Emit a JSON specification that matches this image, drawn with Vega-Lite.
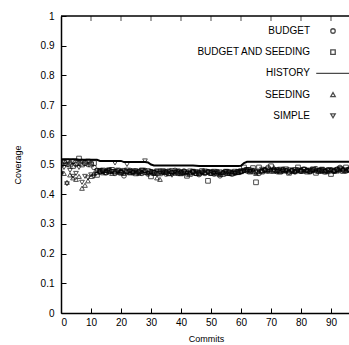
{
  "$schema": "https://vega.github.io/schema/vega-lite/v6.json",
  "autosize": {"type": "none"},
  "width": 290,
  "height": 297,
  "padding": {"left": 61, "top": 16, "right": 0, "bottom": 32},
  "background": "white",
  "config": {
    "view": {"stroke": null},
    "font": "Liberation Sans",
    "axis": {"grid": false, "domainColor": "black", "domainWidth": 1.5, "tickColor": "black", "tickWidth": 1, "labelColor": "black", "titleColor": "black", "labelFont": "Liberation Sans", "titleFont": "Liberation Sans", "labelFontSize": 10, "titleFontSize": 9, "titleFontWeight": "normal", "labelOverlap": false},
    "legend": {"labelFont": "Liberation Sans", "labelFontSize": 10, "labelColor": "black"}
  },
  "data": {"values": [
    {"c":0,"BUDGET":0.505,"BUDGET AND SEEDING":0.50,"SEEDING":0.475,"SIMPLE":0.47,"HISTORY":0.518},
    {"c":1,"BUDGET":0.51,"BUDGET AND SEEDING":0.505,"SEEDING":0.47,"SIMPLE":0.49,"HISTORY":0.518},
    {"c":2,"BUDGET":0.50,"BUDGET AND SEEDING":0.51,"SEEDING":0.44,"SIMPLE":0.435,"HISTORY":0.518},
    {"c":3,"BUDGET":0.505,"BUDGET AND SEEDING":0.50,"SEEDING":0.465,"SIMPLE":0.48,"HISTORY":0.518},
    {"c":4,"BUDGET":0.51,"BUDGET AND SEEDING":0.495,"SEEDING":0.455,"SIMPLE":0.46,"HISTORY":0.518},
    {"c":5,"BUDGET":0.50,"BUDGET AND SEEDING":0.505,"SEEDING":0.45,"SIMPLE":0.47,"HISTORY":0.518},
    {"c":6,"BUDGET":0.505,"BUDGET AND SEEDING":0.52,"SEEDING":0.46,"SIMPLE":0.49,"HISTORY":0.516},
    {"c":7,"BUDGET":0.51,"BUDGET AND SEEDING":0.50,"SEEDING":0.42,"SIMPLE":0.44,"HISTORY":0.516},
    {"c":8,"BUDGET":0.505,"BUDGET AND SEEDING":0.505,"SEEDING":0.43,"SIMPLE":0.46,"HISTORY":0.516},
    {"c":9,"BUDGET":0.50,"BUDGET AND SEEDING":0.51,"SEEDING":0.445,"SIMPLE":0.455,"HISTORY":0.516},
    {"c":10,"BUDGET":0.505,"BUDGET AND SEEDING":0.50,"SEEDING":0.46,"SIMPLE":0.465,"HISTORY":0.516},
    {"c":11,"BUDGET":0.49,"BUDGET AND SEEDING":0.505,"SEEDING":0.47,"SIMPLE":0.46,"HISTORY":0.516},
    {"c":12,"BUDGET":0.48,"BUDGET AND SEEDING":0.465,"SEEDING":0.474,"SIMPLE":0.478,"HISTORY":0.516},
    {"c":13,"BUDGET":0.475,"BUDGET AND SEEDING":0.478,"SEEDING":0.478,"SIMPLE":0.48,"HISTORY":0.512},
    {"c":14,"BUDGET":0.478,"BUDGET AND SEEDING":0.48,"SEEDING":0.472,"SIMPLE":0.474,"HISTORY":0.512},
    {"c":15,"BUDGET":0.472,"BUDGET AND SEEDING":0.474,"SEEDING":0.48,"SIMPLE":0.478,"HISTORY":0.512},
    {"c":16,"BUDGET":0.48,"BUDGET AND SEEDING":0.478,"SEEDING":0.476,"SIMPLE":0.482,"HISTORY":0.512},
    {"c":17,"BUDGET":0.476,"BUDGET AND SEEDING":0.482,"SEEDING":0.47,"SIMPLE":0.476,"HISTORY":0.512},
    {"c":18,"BUDGET":0.47,"BUDGET AND SEEDING":0.476,"SEEDING":0.478,"SIMPLE":0.505,"HISTORY":0.512},
    {"c":19,"BUDGET":0.478,"BUDGET AND SEEDING":0.48,"SEEDING":0.474,"SIMPLE":0.478,"HISTORY":0.512},
    {"c":20,"BUDGET":0.474,"BUDGET AND SEEDING":0.472,"SEEDING":0.48,"SIMPLE":0.474,"HISTORY":0.512},
    {"c":21,"BUDGET":0.462,"BUDGET AND SEEDING":0.476,"SEEDING":0.47,"SIMPLE":0.48,"HISTORY":0.508},
    {"c":22,"BUDGET":0.476,"BUDGET AND SEEDING":0.48,"SEEDING":0.476,"SIMPLE":0.50,"HISTORY":0.508},
    {"c":23,"BUDGET":0.48,"BUDGET AND SEEDING":0.474,"SEEDING":0.472,"SIMPLE":0.476,"HISTORY":0.508},
    {"c":24,"BUDGET":0.472,"BUDGET AND SEEDING":0.478,"SEEDING":0.478,"SIMPLE":0.472,"HISTORY":0.508},
    {"c":25,"BUDGET":0.478,"BUDGET AND SEEDING":0.47,"SEEDING":0.474,"SIMPLE":0.478,"HISTORY":0.508},
    {"c":26,"BUDGET":0.474,"BUDGET AND SEEDING":0.476,"SEEDING":0.47,"SIMPLE":0.474,"HISTORY":0.508},
    {"c":27,"BUDGET":0.47,"BUDGET AND SEEDING":0.48,"SEEDING":0.476,"SIMPLE":0.48,"HISTORY":0.508},
    {"c":28,"BUDGET":0.48,"BUDGET AND SEEDING":0.474,"SEEDING":0.48,"SIMPLE":0.512,"HISTORY":0.508},
    {"c":29,"BUDGET":0.468,"BUDGET AND SEEDING":0.478,"SEEDING":0.472,"SIMPLE":0.47,"HISTORY":0.507},
    {"c":30,"BUDGET":0.476,"BUDGET AND SEEDING":0.46,"SEEDING":0.476,"SIMPLE":0.476,"HISTORY":0.50},
    {"c":31,"BUDGET":0.472,"BUDGET AND SEEDING":0.472,"SEEDING":0.47,"SIMPLE":0.472,"HISTORY":0.497},
    {"c":32,"BUDGET":0.47,"BUDGET AND SEEDING":0.476,"SEEDING":0.455,"SIMPLE":0.478,"HISTORY":0.497},
    {"c":33,"BUDGET":0.478,"BUDGET AND SEEDING":0.47,"SEEDING":0.45,"SIMPLE":0.47,"HISTORY":0.497},
    {"c":34,"BUDGET":0.474,"BUDGET AND SEEDING":0.478,"SEEDING":0.474,"SIMPLE":0.476,"HISTORY":0.497},
    {"c":35,"BUDGET":0.468,"BUDGET AND SEEDING":0.474,"SEEDING":0.478,"SIMPLE":0.472,"HISTORY":0.497},
    {"c":36,"BUDGET":0.476,"BUDGET AND SEEDING":0.47,"SEEDING":0.47,"SIMPLE":0.478,"HISTORY":0.497},
    {"c":37,"BUDGET":0.472,"BUDGET AND SEEDING":0.478,"SEEDING":0.476,"SIMPLE":0.464,"HISTORY":0.497},
    {"c":38,"BUDGET":0.48,"BUDGET AND SEEDING":0.472,"SEEDING":0.472,"SIMPLE":0.474,"HISTORY":0.497},
    {"c":39,"BUDGET":0.47,"BUDGET AND SEEDING":0.476,"SEEDING":0.478,"SIMPLE":0.478,"HISTORY":0.497},
    {"c":40,"BUDGET":0.474,"BUDGET AND SEEDING":0.47,"SEEDING":0.47,"SIMPLE":0.472,"HISTORY":0.497},
    {"c":41,"BUDGET":0.478,"BUDGET AND SEEDING":0.474,"SEEDING":0.474,"SIMPLE":0.476,"HISTORY":0.497},
    {"c":42,"BUDGET":0.468,"BUDGET AND SEEDING":0.462,"SEEDING":0.476,"SIMPLE":0.47,"HISTORY":0.497},
    {"c":43,"BUDGET":0.472,"BUDGET AND SEEDING":0.468,"SEEDING":0.472,"SIMPLE":0.478,"HISTORY":0.497},
    {"c":44,"BUDGET":0.476,"BUDGET AND SEEDING":0.476,"SEEDING":0.478,"SIMPLE":0.472,"HISTORY":0.497},
    {"c":45,"BUDGET":0.47,"BUDGET AND SEEDING":0.472,"SEEDING":0.47,"SIMPLE":0.476,"HISTORY":0.496},
    {"c":46,"BUDGET":0.466,"BUDGET AND SEEDING":0.47,"SEEDING":0.476,"SIMPLE":0.468,"HISTORY":0.495},
    {"c":47,"BUDGET":0.474,"BUDGET AND SEEDING":0.478,"SEEDING":0.472,"SIMPLE":0.474,"HISTORY":0.495},
    {"c":48,"BUDGET":0.47,"BUDGET AND SEEDING":0.474,"SEEDING":0.474,"SIMPLE":0.478,"HISTORY":0.495},
    {"c":49,"BUDGET":0.476,"BUDGET AND SEEDING":0.445,"SEEDING":0.478,"SIMPLE":0.472,"HISTORY":0.495},
    {"c":50,"BUDGET":0.472,"BUDGET AND SEEDING":0.472,"SEEDING":0.47,"SIMPLE":0.476,"HISTORY":0.495},
    {"c":51,"BUDGET":0.468,"BUDGET AND SEEDING":0.476,"SEEDING":0.476,"SIMPLE":0.47,"HISTORY":0.495},
    {"c":52,"BUDGET":0.476,"BUDGET AND SEEDING":0.47,"SEEDING":0.472,"SIMPLE":0.474,"HISTORY":0.495},
    {"c":53,"BUDGET":0.462,"BUDGET AND SEEDING":0.474,"SEEDING":0.466,"SIMPLE":0.466,"HISTORY":0.495},
    {"c":54,"BUDGET":0.472,"BUDGET AND SEEDING":0.468,"SEEDING":0.474,"SIMPLE":0.472,"HISTORY":0.495},
    {"c":55,"BUDGET":0.47,"BUDGET AND SEEDING":0.476,"SEEDING":0.478,"SIMPLE":0.476,"HISTORY":0.495},
    {"c":56,"BUDGET":0.476,"BUDGET AND SEEDING":0.472,"SEEDING":0.47,"SIMPLE":0.468,"HISTORY":0.495},
    {"c":57,"BUDGET":0.468,"BUDGET AND SEEDING":0.47,"SEEDING":0.476,"SIMPLE":0.474,"HISTORY":0.495},
    {"c":58,"BUDGET":0.472,"BUDGET AND SEEDING":0.476,"SEEDING":0.472,"SIMPLE":0.47,"HISTORY":0.495},
    {"c":59,"BUDGET":0.474,"BUDGET AND SEEDING":0.474,"SEEDING":0.474,"SIMPLE":0.476,"HISTORY":0.495},
    {"c":60,"BUDGET":0.476,"BUDGET AND SEEDING":0.478,"SEEDING":0.476,"SIMPLE":0.474,"HISTORY":0.496},
    {"c":61,"BUDGET":0.48,"BUDGET AND SEEDING":0.49,"SEEDING":0.48,"SIMPLE":0.478,"HISTORY":0.505},
    {"c":62,"BUDGET":0.478,"BUDGET AND SEEDING":0.482,"SEEDING":0.484,"SIMPLE":0.482,"HISTORY":0.509},
    {"c":63,"BUDGET":0.482,"BUDGET AND SEEDING":0.476,"SEEDING":0.478,"SIMPLE":0.476,"HISTORY":0.509},
    {"c":64,"BUDGET":0.476,"BUDGET AND SEEDING":0.488,"SEEDING":0.482,"SIMPLE":0.48,"HISTORY":0.509},
    {"c":65,"BUDGET":0.474,"BUDGET AND SEEDING":0.44,"SEEDING":0.47,"SIMPLE":0.474,"HISTORY":0.509},
    {"c":66,"BUDGET":0.47,"BUDGET AND SEEDING":0.49,"SEEDING":0.476,"SIMPLE":0.478,"HISTORY":0.509},
    {"c":67,"BUDGET":0.478,"BUDGET AND SEEDING":0.476,"SEEDING":0.48,"SIMPLE":0.484,"HISTORY":0.509},
    {"c":68,"BUDGET":0.482,"BUDGET AND SEEDING":0.48,"SEEDING":0.484,"SIMPLE":0.48,"HISTORY":0.509},
    {"c":69,"BUDGET":0.49,"BUDGET AND SEEDING":0.484,"SEEDING":0.478,"SIMPLE":0.476,"HISTORY":0.509},
    {"c":70,"BUDGET":0.478,"BUDGET AND SEEDING":0.494,"SEEDING":0.482,"SIMPLE":0.482,"HISTORY":0.509},
    {"c":71,"BUDGET":0.482,"BUDGET AND SEEDING":0.478,"SEEDING":0.49,"SIMPLE":0.478,"HISTORY":0.509},
    {"c":72,"BUDGET":0.476,"BUDGET AND SEEDING":0.482,"SEEDING":0.48,"SIMPLE":0.48,"HISTORY":0.509},
    {"c":73,"BUDGET":0.48,"BUDGET AND SEEDING":0.476,"SEEDING":0.476,"SIMPLE":0.484,"HISTORY":0.509},
    {"c":74,"BUDGET":0.484,"BUDGET AND SEEDING":0.48,"SEEDING":0.484,"SIMPLE":0.476,"HISTORY":0.509},
    {"c":75,"BUDGET":0.478,"BUDGET AND SEEDING":0.484,"SEEDING":0.48,"SIMPLE":0.48,"HISTORY":0.509},
    {"c":76,"BUDGET":0.474,"BUDGET AND SEEDING":0.472,"SEEDING":0.478,"SIMPLE":0.482,"HISTORY":0.509},
    {"c":77,"BUDGET":0.48,"BUDGET AND SEEDING":0.478,"SEEDING":0.482,"SIMPLE":0.478,"HISTORY":0.509},
    {"c":78,"BUDGET":0.476,"BUDGET AND SEEDING":0.482,"SEEDING":0.476,"SIMPLE":0.474,"HISTORY":0.509},
    {"c":79,"BUDGET":0.482,"BUDGET AND SEEDING":0.49,"SEEDING":0.48,"SIMPLE":0.48,"HISTORY":0.509},
    {"c":80,"BUDGET":0.478,"BUDGET AND SEEDING":0.478,"SEEDING":0.484,"SIMPLE":0.476,"HISTORY":0.509},
    {"c":81,"BUDGET":0.484,"BUDGET AND SEEDING":0.482,"SEEDING":0.478,"SIMPLE":0.484,"HISTORY":0.509},
    {"c":82,"BUDGET":0.48,"BUDGET AND SEEDING":0.476,"SEEDING":0.482,"SIMPLE":0.478,"HISTORY":0.509},
    {"c":83,"BUDGET":0.476,"BUDGET AND SEEDING":0.48,"SEEDING":0.476,"SIMPLE":0.48,"HISTORY":0.509},
    {"c":84,"BUDGET":0.482,"BUDGET AND SEEDING":0.484,"SEEDING":0.48,"SIMPLE":0.482,"HISTORY":0.509},
    {"c":85,"BUDGET":0.486,"BUDGET AND SEEDING":0.472,"SEEDING":0.484,"SIMPLE":0.476,"HISTORY":0.509},
    {"c":86,"BUDGET":0.48,"BUDGET AND SEEDING":0.478,"SEEDING":0.478,"SIMPLE":0.48,"HISTORY":0.509},
    {"c":87,"BUDGET":0.478,"BUDGET AND SEEDING":0.482,"SEEDING":0.482,"SIMPLE":0.484,"HISTORY":0.509},
    {"c":88,"BUDGET":0.476,"BUDGET AND SEEDING":0.476,"SEEDING":0.48,"SIMPLE":0.478,"HISTORY":0.509},
    {"c":89,"BUDGET":0.482,"BUDGET AND SEEDING":0.48,"SEEDING":0.476,"SIMPLE":0.48,"HISTORY":0.509},
    {"c":90,"BUDGET":0.48,"BUDGET AND SEEDING":0.468,"SEEDING":0.484,"SIMPLE":0.482,"HISTORY":0.509},
    {"c":91,"BUDGET":0.478,"BUDGET AND SEEDING":0.478,"SEEDING":0.48,"SIMPLE":0.476,"HISTORY":0.509},
    {"c":92,"BUDGET":0.484,"BUDGET AND SEEDING":0.482,"SEEDING":0.478,"SIMPLE":0.48,"HISTORY":0.509},
    {"c":93,"BUDGET":0.49,"BUDGET AND SEEDING":0.486,"SEEDING":0.482,"SIMPLE":0.484,"HISTORY":0.509},
    {"c":94,"BUDGET":0.482,"BUDGET AND SEEDING":0.478,"SEEDING":0.486,"SIMPLE":0.478,"HISTORY":0.509},
    {"c":95,"BUDGET":0.478,"BUDGET AND SEEDING":0.49,"SEEDING":0.48,"SIMPLE":0.482,"HISTORY":0.509},
    {"c":96,"BUDGET":0.484,"BUDGET AND SEEDING":0.482,"SEEDING":0.484,"SIMPLE":0.48,"HISTORY":0.509}
  ]},
  "layer": [
    {
      "transform": [{"fold": ["HISTORY"], "as": ["series", "v"]}],
      "mark": {"type": "line", "color": "black", "strokeWidth": 2, "clip": true},
      "encoding": {
        "x": {"field": "c", "type": "quantitative", "scale": {"domain": [0, 96.67], "nice": false},
              "axis": {"title": "Commits", "values": [0,10,20,30,40,50,60,70,80,90], "tickSize": -5, "labelPadding": 9, "titlePadding": 7, "format": "d"}},
        "y": {"field": "v", "type": "quantitative", "scale": {"domain": [0, 1], "nice": false},
              "axis": {"title": "Coverage", "values": [0,0.1,0.2,0.3,0.4,0.5,0.6,0.7,0.8,0.9,1], "format": "~g", "tickSize": -5, "labelPadding": 12, "titlePadding": 18, "labelOverlap": false}}
      }
    },
    {
      "transform": [{"fold": ["BUDGET", "BUDGET AND SEEDING", "SEEDING", "SIMPLE"], "as": ["series", "v"]}],
      "mark": {"type": "point", "filled": false, "color": "black", "strokeWidth": 1, "size": 22, "clip": true},
      "encoding": {
        "x": {"field": "c", "type": "quantitative", "scale": {"domain": [0, 96.67], "nice": false},
              "axis": {"title": "Commits", "values": [0,10,20,30,40,50,60,70,80,90], "tickSize": -5, "labelPadding": 9, "titlePadding": 7, "format": "d"}},
        "y": {"field": "v", "type": "quantitative", "scale": {"domain": [0, 1], "nice": false},
              "axis": {"title": "Coverage", "values": [0,0.1,0.2,0.3,0.4,0.5,0.6,0.7,0.8,0.9,1], "format": "~g", "tickSize": -5, "labelPadding": 12, "titlePadding": 18, "labelOverlap": false}},
        "shape": {"field": "series", "type": "nominal",
          "scale": {"domain": ["BUDGET", "BUDGET AND SEEDING", "HISTORY", "SEEDING", "SIMPLE"],
                    "range": ["circle", "square", "M-7.5,0H7.5", "triangle-up", "triangle-down"]},
          "legend": {"title": null, "orient": "none", "legendX": 267, "legendY": 10, "symbolSize": 20, "symbolStrokeColor": "black", "symbolFillColor": "transparent", "symbolStrokeWidth": 1.3, "labelAlign": "right", "labelOffset": -28, "rowPadding": 11.2, "labelFontSize": 10}}
      }
    },
    {
      "data": {"values": [{"v": 1}]},
      "mark": {"type": "rule", "color": "black", "strokeWidth": 1.5},
      "encoding": {
        "y": {"field": "v", "type": "quantitative", "scale": {"domain": [0, 1], "nice": false},
              "axis": {"title": "Coverage", "values": [0,0.1,0.2,0.3,0.4,0.5,0.6,0.7,0.8,0.9,1], "format": "~g", "tickSize": -5, "labelPadding": 12, "titlePadding": 18, "labelOverlap": false}}
      }
    },
    {
      "data": {"values": [{"c": 0, "v": 1}, {"c": 10, "v": 1}, {"c": 20, "v": 1}, {"c": 30, "v": 1}, {"c": 40, "v": 1}, {"c": 50, "v": 1}, {"c": 60, "v": 1}, {"c": 70, "v": 1}, {"c": 80, "v": 1}, {"c": 90, "v": 1}]},
      "mark": {"type": "tick", "orient": "vertical", "color": "black", "thickness": 1, "size": 10, "clip": true},
      "encoding": {
        "x": {"field": "c", "type": "quantitative", "scale": {"domain": [0, 96.67], "nice": false},
              "axis": {"title": "Commits", "values": [0,10,20,30,40,50,60,70,80,90], "tickSize": -5, "labelPadding": 9, "titlePadding": 7, "format": "d"}},
        "y": {"field": "v", "type": "quantitative", "scale": {"domain": [0, 1], "nice": false},
              "axis": {"title": "Coverage", "values": [0,0.1,0.2,0.3,0.4,0.5,0.6,0.7,0.8,0.9,1], "format": "~g", "tickSize": -5, "labelPadding": 12, "titlePadding": 18, "labelOverlap": false}}
      }
    }
  ]
}
